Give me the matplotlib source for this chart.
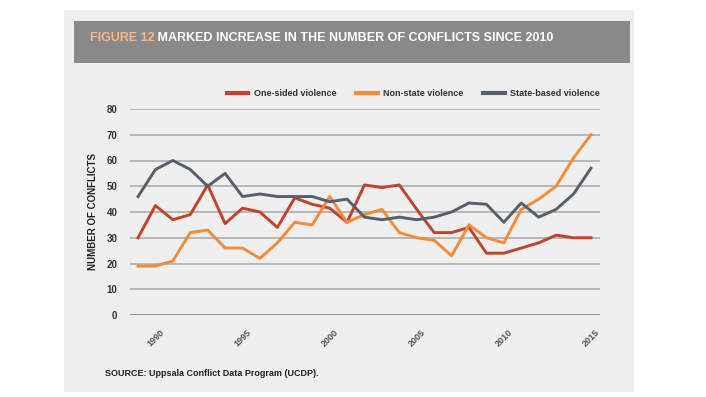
import matplotlib
matplotlib.use("Agg")
import matplotlib.pyplot as plt
from matplotlib.patches import Rectangle

plt.rcParams['font.family'] = ['Liberation Sans', 'DejaVu Sans']

# data
years = list(range(1989, 2016))
one_sided = [30, 42.5, 37, 39, 50.5, 35.5, 41.5, 40, 34, 45.5, 43, 41.5, 36,
             50.5, 49.5, 50.5, 41, 32, 32, 34, 24, 24, 26, 28, 31, 30, 30]
non_state = [19, 19, 21, 32, 33, 26, 26, 22, 28, 36, 35, 46, 36,
             39, 41, 32, 30, 29, 23, 35, 30, 28, 41, 45, 50, 61, 70]
state_based = [46, 56.5, 60, 56.5, 50, 55, 46, 47, 46, 46, 46, 44, 45,
               38, 37, 38, 37, 38, 40, 43.5, 43, 36, 43.5, 38, 41, 47, 57]
series_names = ['One-sided violence', 'Non-state violence', 'State-based violence']
colors = ['#c1432c', '#f28c38', '#56606b']
xticks = [1990, 1995, 2000, 2005, 2010, 2015]
yticks = list(range(0, 81, 10))

W, H = 706, 397
fig = plt.figure(figsize=(W / 100, H / 100), dpi=100)
fig.patch.set_facecolor('white')

# light panel + title bar (behind the axes)
fig.patches.append(Rectangle((64 / W, 1 - 392 / H), 570 / W, 382 / H,
                             transform=fig.transFigure, facecolor='#efefef',
                             edgecolor='none', zorder=-10))
fig.patches.append(Rectangle((74 / W, 1 - 63 / H), 556 / W, 42 / H,
                             transform=fig.transFigure, facecolor='#898989',
                             edgecolor='none', zorder=-9))
t1 = fig.text(90 / W, 1 - 38 / H, 'FIGURE 12', color='#f6b88a', fontsize=9,
              fontweight='bold', va='center', ha='left')
fig.add_artist(plt.Annotation(' MARKED INCREASE IN THE NUMBER OF CONFLICTS SINCE 2010',
                              xy=(1, 0), xycoords=t1, va='bottom', ha='left',
                              color='white', fontsize=9, fontweight='bold'))

ax = fig.add_axes([130 / W, 1 - 315 / H, 470 / W, 206 / H])
ax.set_facecolor('none')

for vals, name, c in zip([one_sided, non_state, state_based], series_names, colors):
    ax.plot(years, vals, color=c, lw=2.1, label=name, zorder=3, solid_joinstyle='round')

ax.set_ylim(0, 80)
ax.set_xlim(1988.54, 2015.52)
ax.set_yticks(yticks)
ax.set_xticks(xticks)
for y in yticks:
    ax.axhline(y, color='#7a7a7a' if y == 0 else '#a8a8a8',
               lw=1.8 if y == 0 else 1.1, zorder=1)
ax.tick_params(length=0)
ax.tick_params(axis='y', pad=9, labelsize=7, labelcolor='#333333')
ax.tick_params(axis='x', pad=9, labelsize=6.5, labelcolor='#555555')
for lab in ax.get_yticklabels():
    lab.set_fontweight('bold')
for lab in ax.get_xticklabels():
    lab.set_rotation(45)
    lab.set_ha('center')
    lab.set_va('top')
    lab.set_fontweight('bold')
for s in ax.spines.values():
    s.set_visible(False)

ax.set_ylabel('NUMBER OF CONFLICTS', fontsize=7, fontweight='bold', color='#222222',
              labelpad=6)

leg = ax.legend(loc='lower right', bbox_to_anchor=(1.0, 1.055), ncol=3, frameon=False,
                fontsize=6.5, handlelength=2.4, columnspacing=2.2, handletextpad=0.6,
                borderaxespad=0, borderpad=0)
for t in leg.get_texts():
    t.set_fontweight('bold')
    t.set_color('#333333')
for l in leg.get_lines():
    l.set_linewidth(3)

fig.text(105 / W, 1 - 374 / H, 'SOURCE: Uppsala Conflict Data Program (UCDP).',
         fontsize=6.5, fontweight='bold', color='#222222', va='center', ha='left')

fig.savefig('out.png', dpi=100)
